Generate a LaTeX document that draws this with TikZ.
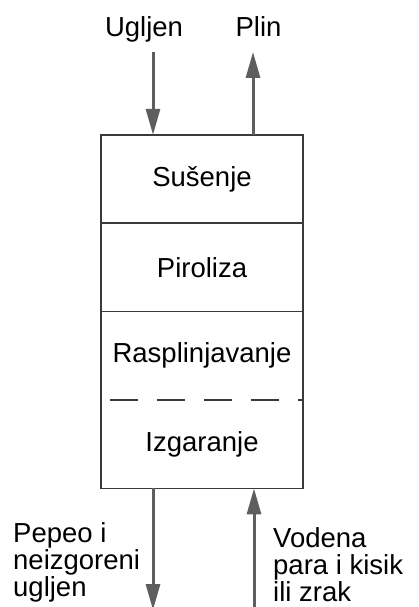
\documentclass[tikz,border=0pt]{standalone}
\usepackage{fontspec}
\setmainfont{Liberation Sans}
\usetikzlibrary{positioning,arrows.meta}
\definecolor{strelica}{HTML}{5E5E5E}
\definecolor{okvir}{HTML}{3A3A3A}
\tikzset{
  faza/.style={minimum width=202pt,minimum height=88pt,inner sep=0pt,
    font=\fontsize{27.5}{27}\selectfont},
  oznaka/.style={inner sep=0pt,align=left,font=\fontsize{27.5}{27}\selectfont},
  tok/.style={strelica,line width=3pt,-{Triangle[length=26pt,width=14pt]}},
  rub/.style={okvir,line width=1.5pt},
}
\begin{document}
\begin{tikzpicture}[x=1pt,y=-1pt]
  \useasboundingbox[fill=white] (0,0) rectangle (419,607);
  % stupanj po stupanj
  \node[faza] (susenje) at (202,179) {Sušenje};
  \node[faza,below=0pt of susenje] (piroliza) {Piroliza};
  \node[faza,below=0pt of piroliza] (rasplinjavanje) {Rasplinjavanje};
  \node[faza,below=0pt of rasplinjavanje] (izgaranje) {Izgaranje};
  \draw[rub] (susenje.north west) rectangle (izgaranje.south east);
  \draw[rub] (susenje.south west) -- (susenje.south east);
  \draw[rub] (piroliza.south west) -- (piroliza.south east);
  \draw[rub,dash pattern=on 28pt off 19pt,dash phase=38pt]
    (rasplinjavanje.south west) -- (rasplinjavanje.south east);
  % oznake
  \node[oznaka,anchor=base] (ugljen) at (144,37) {Ugljen};
  \node[oznaka,anchor=base] (plin) at (258.5,37) {Plin};
  \node[oznaka,anchor=north west] (pepeo) at (13,522) {Pepeo i\\neizgoreni\\ugljen};
  \node[oznaka,anchor=north west] (zrak) at (273,527) {Vodena\\para i kisik\\ili zrak};
  % tokovi
  \coordinate (ulaz) at (153,52);
  \coordinate (izlaz) at (253,52);
  \coordinate (dno) at (153,610);
  \coordinate (dovod) at (254,610);
  \draw[tok] (ulaz) -- (ulaz |- susenje.north);
  \draw[tok] (izlaz |- susenje.north) -- (izlaz);
  \draw[tok] (dno |- izgaranje.south) -- (dno);
  \draw[tok] (dovod) -- (dovod |- izgaranje.south);
\end{tikzpicture}
\end{document}
